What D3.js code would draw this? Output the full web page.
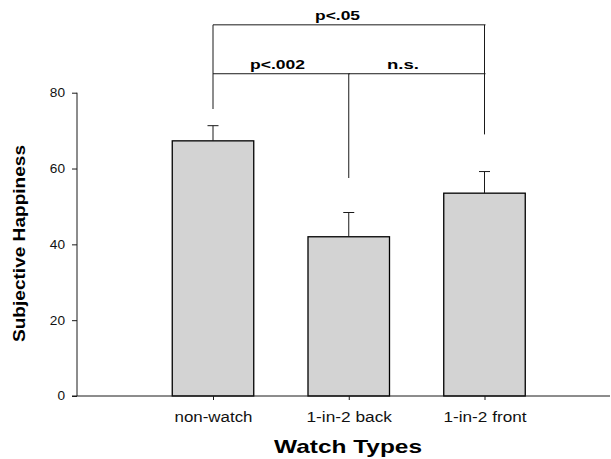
<!DOCTYPE html>
<html>
<head>
<meta charset="utf-8">
<script src="https://cdn.jsdelivr.net/npm/d3@7"></script>
<style>
  body { margin: 0; background: #fff; }
  svg { display: block; font-family: Arial, "Liberation Sans", sans-serif; }
</style>
</head>
<body>
<div id="chart"></div>
<script>
var categories = ["non-watch", "1-in-2 back", "1-in-2 front"];
var means = [67.3, 42.0, 53.5];
var errors = [4.0, 6.4, 5.7];
var yTicks = [0, 20, 40, 60, 80];

// comparison brackets: from category index, to index, level, label
var brackets = [
  { from: 0, to: 2, level: 97.9, label: "p<.05" },
  { from: 0, to: 1, level: 85, label: "p<.002" },
  { from: 1, to: 2, level: 85, label: "n.s." }
];
// drop lines under the brackets: category index, top and bottom value
var drops = [
  { i: 0, top: 97.9, bottom: 75.7 },
  { i: 1, top: 85, bottom: 57.5 },
  { i: 2, top: 97.9, bottom: 69 }
];

var w = 611, h = 459;
var svg = d3.select("#chart").append("svg").attr("width", w).attr("height", h);

var y = d3.scaleLinear().domain([0, 80]).range([396, 92.7]);
var x = d3.scalePoint().domain(categories).range([213, 484.5]);
var barW = 81.5;
var ink = "#1a1a1a";

// the original text is drawn a little wide, so widths are fixed
var tickLen = { "non-watch": 78, "1-in-2 back": 85.5, "1-in-2 front": 83 };
var labLen = { "p<.05": 45, "p<.002": 55, "n.s.": 32 };
var labX = { "p<.05": 337.5, "p<.002": 277.5, "n.s.": 403 };

// bars
svg.selectAll(".bar")
  .data(means)
  .enter().append("rect")
  .attr("class", "bar")
  .attr("x", function(d, i) { return x(categories[i]) - barW / 2; })
  .attr("y", function(d) { return y(d); })
  .attr("width", barW)
  .attr("height", function(d) { return y(0) - y(d); })
  .style("fill", "#d3d3d3")
  .style("stroke", "#000")
  .style("stroke-width", 1.3);

// error bars (upper only)
var eb = svg.selectAll(".err").data(means).enter().append("g");
eb.append("line")
  .attr("x1", function(d, i) { return x(categories[i]); })
  .attr("x2", function(d, i) { return x(categories[i]); })
  .attr("y1", function(d) { return y(d); })
  .attr("y2", function(d, i) { return y(d + errors[i]); })
  .style("stroke", ink).style("stroke-width", 1);
eb.append("line")
  .attr("x1", function(d, i) { return x(categories[i]) - 5.5; })
  .attr("x2", function(d, i) { return x(categories[i]) + 5.5; })
  .attr("y1", function(d, i) { return y(d + errors[i]); })
  .attr("y2", function(d, i) { return y(d + errors[i]); })
  .style("stroke", ink).style("stroke-width", 1);

// y axis
var yAxis = svg.append("g").attr("transform", "translate(77,0)")
  .call(d3.axisLeft(y).tickValues(yTicks).tickSize(5).tickPadding(7));
yAxis.select(".domain").attr("d", "M0," + y(80) + "V" + y(0)).style("stroke", ink);
yAxis.selectAll(".tick line").style("stroke", ink);
yAxis.selectAll("text")
  .style("font-size", "12px").style("fill", "#111")
  .attr("textLength", function(d) { return String(d).length * 7.6; })
  .attr("lengthAdjust", "spacingAndGlyphs");

// x axis
var xAxis = svg.append("g").attr("transform", "translate(0," + y(0) + ")")
  .call(d3.axisBottom(x).tickSize(4).tickPadding(12));
xAxis.select(".domain").attr("d", "M72,0H610").style("stroke", ink);
xAxis.selectAll(".tick line").style("stroke", ink);
xAxis.selectAll("text")
  .style("font-size", "14px").style("fill", "#111")
  .attr("textLength", function(d) { return tickLen[d]; })
  .attr("lengthAdjust", "spacingAndGlyphs");

// axis titles
svg.append("text")
  .attr("x", 348).attr("y", 453)
  .attr("text-anchor", "middle")
  .attr("textLength", 148).attr("lengthAdjust", "spacingAndGlyphs")
  .style("font-size", "19px").style("font-weight", "bold")
  .text("Watch Types");
svg.append("text")
  .attr("transform", "translate(25,243.5) rotate(-90)")
  .attr("text-anchor", "middle")
  .attr("textLength", 197).attr("lengthAdjust", "spacingAndGlyphs")
  .style("font-size", "16px").style("font-weight", "bold")
  .text("Subjective Happiness");

// brackets
svg.selectAll(".br").data(brackets).enter().append("line")
  .attr("x1", function(d) { return x(categories[d.from]); })
  .attr("x2", function(d) { return x(categories[d.to]) + 1; })
  .attr("y1", function(d) { return y(d.level); })
  .attr("y2", function(d) { return y(d.level); })
  .style("stroke", ink).style("stroke-width", 1);
svg.selectAll(".drop").data(drops).enter().append("line")
  .attr("x1", function(d) { return x(categories[d.i]); })
  .attr("x2", function(d) { return x(categories[d.i]); })
  .attr("y1", function(d) { return y(d.top); })
  .attr("y2", function(d) { return y(d.bottom); })
  .style("stroke", ink).style("stroke-width", 1);
svg.selectAll(".blab").data(brackets).enter().append("text")
  .attr("x", function(d) { return labX[d.label]; })
  .attr("y", function(d) { return y(d.level) - 4.5; })
  .attr("text-anchor", "middle")
  .attr("textLength", function(d) { return labLen[d.label]; })
  .attr("lengthAdjust", "spacingAndGlyphs")
  .style("font-size", "13px").style("font-weight", "bold")
  .text(function(d) { return d.label; });
</script>
</body>
</html>
